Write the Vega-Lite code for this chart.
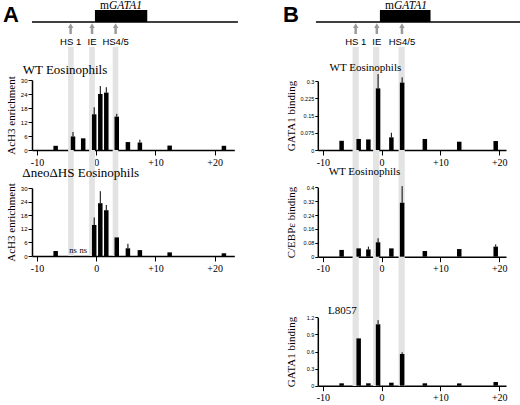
{
  "$schema": "https://vega.github.io/schema/vega-lite/v6.json",
  "width": 1,
  "height": 1,
  "padding": {"left": 519, "top": 0, "right": 0, "bottom": 404},
  "autosize": {"type": "none"},
  "background": "white",
  "config": {
    "view": {"stroke": null},
    "font": "Liberation Serif",
    "axis": {
      "grid": false,
      "domainColor": "black",
      "domainWidth": 1.5,
      "tickColor": "black",
      "tickWidth": 1,
      "labelColor": "black",
      "titleColor": "black",
      "labelFlush": false,
      "labelOverlap": false,
      "zindex": 1
    },
    "axisX": {"tickSize": 5, "labelFont": "Liberation Serif", "labelFontSize": 10, "labelPadding": 2},
    "axisY": {"tickSize": 4, "labelFont": "Liberation Sans", "labelFontSize": 6, "labelPadding": 1, "titleFont": "Liberation Serif", "titleFontSize": 11, "titleFontWeight": "normal"}
  },
  "datasets": {
    "a_wt": [
      {"pos": -6.85, "val": 1.8},
      {"pos": -3.92, "val": 5.8, "err": 7.7},
      {"pos": -2.2, "val": 5.0},
      {"pos": -0.34, "val": 15.3, "err": 18.3},
      {"pos": 0.69, "val": 24.0, "err": 27.4},
      {"pos": 1.7, "val": 24.6, "err": 26.9},
      {"pos": 3.47, "val": 14.3, "err": 15.5},
      {"pos": 5.35, "val": 3.4},
      {"pos": 7.37, "val": 3.2, "err": 4.4},
      {"pos": 12.4, "val": 1.9},
      {"pos": 21.56, "val": 1.8}
    ],
    "a_dneo": [
      {"pos": -6.85, "val": 2.2},
      {"pos": -0.34, "val": 13.7, "err": 17.0},
      {"pos": 0.69, "val": 23.3, "err": 28.6},
      {"pos": 1.7, "val": 20.2, "err": 22.5},
      {"pos": 3.47, "val": 8.2},
      {"pos": 5.35, "val": 3.4, "err": 5.4},
      {"pos": 7.37, "val": 2.6},
      {"pos": 12.4, "val": 1.6},
      {"pos": 21.56, "val": 1.2}
    ],
    "a_dneo_ns": [
      {"pos": -3.92, "val": 0, "note": "ns"},
      {"pos": -2.2, "val": 0, "note": "ns"}
    ],
    "b_gata1_wt": [
      {"pos": -6.8, "val": 0.040},
      {"pos": -3.9, "val": 0.048},
      {"pos": -2.25, "val": 0.046},
      {"pos": -0.6, "val": 0.268, "err": 0.33},
      {"pos": 1.66, "val": 0.055, "err": 0.075},
      {"pos": 3.49, "val": 0.293, "err": 0.316},
      {"pos": 7.35, "val": 0.048},
      {"pos": 13.2, "val": 0.036},
      {"pos": 19.4, "val": 0.039}
    ],
    "b_cebp_wt": [
      {"pos": -6.8, "val": 0.039},
      {"pos": -3.9, "val": 0.048},
      {"pos": -2.25, "val": 0.042, "err": 0.058},
      {"pos": -0.6, "val": 0.083, "err": 0.106},
      {"pos": 1.66, "val": 0.048},
      {"pos": 3.49, "val": 0.311, "err": 0.407},
      {"pos": 7.35, "val": 0.033},
      {"pos": 13.2, "val": 0.044},
      {"pos": 19.4, "val": 0.058, "err": 0.071}
    ],
    "b_l8057": [
      {"pos": -6.8, "val": 0.042},
      {"pos": -3.9, "val": 0.83},
      {"pos": -2.25, "val": 0.042},
      {"pos": -0.6, "val": 1.077, "err": 1.15},
      {"pos": 1.66, "val": 0.053},
      {"pos": 3.49, "val": 0.556, "err": 0.586},
      {"pos": 7.35, "val": 0.042},
      {"pos": 13.2, "val": 0.04},
      {"pos": 19.4, "val": 0.065}
    ],
    "sites_a": [
      {"site": "HS 1", "pos": -3.8, "start": -4.2, "end": -3.3},
      {"site": "IE", "pos": -0.36, "start": -0.82, "end": 0.1},
      {"site": "HS4/5", "pos": 3.42, "start": 2.95, "end": 3.85}
    ],
    "sites_b": [
      {"site": "HS 1", "pos": -3.9, "start": -4.4, "end": -3.4},
      {"site": "IE", "pos": -0.5, "start": -1.1, "end": -0.1},
      {"site": "HS4/5", "pos": 3.55, "start": 3.0, "end": 4.0}
    ],
    "gene_a": [
      {"panel": "A", "panel_at": -14.67, "prefix": "m", "symbol": "GATA1", "label_at": 2.34, "start": 0.1, "end": 8.5, "from": -10, "to": 23.05}
    ],
    "gene_b": [
      {"panel": "B", "panel_at": -15.6, "prefix": "m", "symbol": "GATA1", "label_at": 2.25, "start": 0.0, "end": 8.15, "from": -10.3, "to": 22.6}
    ]
  },
  "layer": [
    {
      "data": {"name": "sites_a"},
      "mark": {"type": "rect", "color": "#e3e3e3"},
      "encoding": {
        "x": {"field": "start", "type": "quantitative", "scale": {"domain": [-10, 22.47], "range": [-487, -284.7], "nice": false, "zero": false}, "axis": null},
        "x2": {"field": "end"},
        "y": {"datum": 0, "type": "quantitative", "scale": {"domain": [0, 1], "range": [256, 47], "nice": false}, "axis": null},
        "y2": {"datum": 1}
      }
    },
    {
      "data": {"name": "sites_b"},
      "mark": {"type": "rect", "color": "#e3e3e3"},
      "encoding": {
        "x": {"field": "start", "type": "quantitative", "scale": {"domain": [-10, 20.3], "range": [-201.2, -13], "nice": false, "zero": false}, "axis": null},
        "x2": {"field": "end"},
        "y": {"datum": 0, "type": "quantitative", "scale": {"domain": [0, 1], "range": [386, 47], "nice": false}, "axis": null},
        "y2": {"datum": 1}
      }
    },
    {
      "encoding": {
        "x": {"type": "quantitative", "scale": {"domain": [-10, 22.47], "range": [-487, -284.7], "nice": false, "zero": false}, "axis": null},
        "y": {"type": "quantitative", "scale": {"domain": [0, 1], "range": [22, 10], "nice": false, "zero": false}, "axis": null}
      },
      "layer": [
        {
          "data": {"name": "gene_a"},
          "mark": {"type": "rule", "color": "black", "strokeWidth": 1.5},
          "encoding": {"x": {"field": "from"}, "x2": {"field": "to"}, "y": {"datum": 0}}
        },
        {
          "data": {"name": "gene_a"},
          "mark": {"type": "rect", "color": "black"},
          "encoding": {"x": {"field": "start"}, "x2": {"field": "end"}, "y": {"datum": 0}, "y2": {"datum": 1}}
        },
        {
          "data": {"name": "gene_a"},
          "mark": {"type": "text", "align": "right", "baseline": "alphabetic", "fontSize": 11.5, "font": "Liberation Serif"},
          "encoding": {"x": {"field": "label_at"}, "y": {"datum": 1.08}, "text": {"field": "prefix"}}
        },
        {
          "data": {"name": "gene_a"},
          "mark": {"type": "text", "align": "left", "baseline": "alphabetic", "fontSize": 11.5, "font": "Liberation Serif", "fontStyle": "italic"},
          "encoding": {"x": {"field": "label_at"}, "y": {"datum": 1.08}, "text": {"field": "symbol"}}
        },
        {
          "data": {"name": "gene_a"},
          "mark": {"type": "text", "align": "left", "baseline": "alphabetic", "fontSize": 22, "font": "Liberation Sans", "fontWeight": "bold"},
          "encoding": {"x": {"field": "panel_at"}, "y": {"datum": 0}, "text": {"field": "panel"}}
        },
        {
          "data": {"name": "sites_a"},
          "mark": {"type": "rule", "color": "#9a9a9a", "strokeWidth": 2.5},
          "encoding": {"x": {"field": "pos"}, "y": {"datum": -0.46}, "y2": {"datum": -1.0}}
        },
        {
          "data": {"name": "sites_a"},
          "mark": {"type": "point", "shape": "triangle-up", "filled": true, "color": "#9a9a9a", "size": 30, "opacity": 1},
          "encoding": {"x": {"field": "pos"}, "y": {"datum": -0.3}}
        },
        {
          "data": {"name": "sites_a"},
          "mark": {"type": "text", "align": "center", "baseline": "alphabetic", "fontSize": 9.5, "font": "Liberation Sans"},
          "encoding": {"x": {"field": "pos"}, "y": {"datum": -1.92}, "text": {"field": "site"}}
        }
      ]
    },
    {
      "encoding": {
        "x": {"type": "quantitative", "scale": {"domain": [-10, 20.3], "range": [-201.2, -13], "nice": false, "zero": false}, "axis": null},
        "y": {"type": "quantitative", "scale": {"domain": [0, 1], "range": [22, 10], "nice": false, "zero": false}, "axis": null}
      },
      "layer": [
        {
          "data": {"name": "gene_b"},
          "mark": {"type": "rule", "color": "black", "strokeWidth": 1.5},
          "encoding": {"x": {"field": "from"}, "x2": {"field": "to"}, "y": {"datum": 0}}
        },
        {
          "data": {"name": "gene_b"},
          "mark": {"type": "rect", "color": "black"},
          "encoding": {"x": {"field": "start"}, "x2": {"field": "end"}, "y": {"datum": 0}, "y2": {"datum": 1}}
        },
        {
          "data": {"name": "gene_b"},
          "mark": {"type": "text", "align": "right", "baseline": "alphabetic", "fontSize": 11.5, "font": "Liberation Serif"},
          "encoding": {"x": {"field": "label_at"}, "y": {"datum": 1.08}, "text": {"field": "prefix"}}
        },
        {
          "data": {"name": "gene_b"},
          "mark": {"type": "text", "align": "left", "baseline": "alphabetic", "fontSize": 11.5, "font": "Liberation Serif", "fontStyle": "italic"},
          "encoding": {"x": {"field": "label_at"}, "y": {"datum": 1.08}, "text": {"field": "symbol"}}
        },
        {
          "data": {"name": "gene_b"},
          "mark": {"type": "text", "align": "left", "baseline": "alphabetic", "fontSize": 22, "font": "Liberation Sans", "fontWeight": "bold"},
          "encoding": {"x": {"field": "panel_at"}, "y": {"datum": 0}, "text": {"field": "panel"}}
        },
        {
          "data": {"name": "sites_b"},
          "mark": {"type": "rule", "color": "#9a9a9a", "strokeWidth": 2.5},
          "encoding": {"x": {"field": "pos"}, "y": {"datum": -0.46}, "y2": {"datum": -1.0}}
        },
        {
          "data": {"name": "sites_b"},
          "mark": {"type": "point", "shape": "triangle-up", "filled": true, "color": "#9a9a9a", "size": 30, "opacity": 1},
          "encoding": {"x": {"field": "pos"}, "y": {"datum": -0.3}}
        },
        {
          "data": {"name": "sites_b"},
          "mark": {"type": "text", "align": "center", "baseline": "alphabetic", "fontSize": 9.5, "font": "Liberation Sans"},
          "encoding": {"x": {"field": "pos"}, "y": {"datum": -1.92}, "text": {"field": "site"}}
        }
      ]
    },
    {
      "encoding": {
        "x": {"type": "quantitative", "scale": {"domain": [-10, 22.47], "range": [-487, -284.7], "nice": false, "zero": false},
              "axis": {"orient": "bottom", "offset": 149, "values": [-10, 0, 10, 20], "title": null, "labelExpr": "datum.value > 0 ? '+' + datum.value : '' + datum.value"}},
        "y": {"type": "quantitative", "scale": {"domain": [0, 30], "range": [150, 80], "nice": false},
              "axis": {"orient": "left", "offset": 487, "values": [0, 6, 12, 18, 24, 30], "title": "AcH3 enrichment", "titleX": -15.5, "labelExpr": "'' + datum.value"}}
      },
      "layer": [
        {
          "data": {"name": "a_wt"},
          "mark": {"type": "bar", "orient": "vertical", "size": 4.5, "color": "black"},
          "encoding": {"x": {"field": "pos"}, "y": {"field": "val"}}
        },
        {
          "data": {"name": "a_wt"},
          "transform": [{"filter": "isValid(datum.err)"}],
          "mark": {"type": "rule", "color": "black", "strokeWidth": 1},
          "encoding": {"x": {"field": "pos"}, "y": {"field": "val"}, "y2": {"field": "err"}}
        },
        {
          "data": {"values": [{"title": "WT Eosinophils"}]},
          "mark": {"type": "text", "align": "left", "baseline": "alphabetic", "fontSize": 13, "font": "Liberation Serif"},
          "encoding": {"x": {"datum": -12.42}, "y": {"datum": 32.57}, "text": {"field": "title"}}
        }
      ]
    },
    {
      "encoding": {
        "x": {"type": "quantitative", "scale": {"domain": [-10, 22.47], "range": [-487, -284.7], "nice": false, "zero": false},
              "axis": {"orient": "bottom", "offset": 255, "values": [-10, 0, 10, 20], "title": null, "labelExpr": "datum.value > 0 ? '+' + datum.value : '' + datum.value"}},
        "y": {"type": "quantitative", "scale": {"domain": [0, 30], "range": [256, 188], "nice": false},
              "axis": {"orient": "left", "offset": 487, "values": [0, 6, 12, 18, 24, 30], "title": "AcH3 enrichment", "titleX": -15.5, "labelExpr": "'' + datum.value"}}
      },
      "layer": [
        {
          "data": {"name": "a_dneo"},
          "mark": {"type": "bar", "orient": "vertical", "size": 4.5, "color": "black"},
          "encoding": {"x": {"field": "pos"}, "y": {"field": "val"}}
        },
        {
          "data": {"name": "a_dneo"},
          "transform": [{"filter": "isValid(datum.err)"}],
          "mark": {"type": "rule", "color": "black", "strokeWidth": 1},
          "encoding": {"x": {"field": "pos"}, "y": {"field": "val"}, "y2": {"field": "err"}}
        },
        {
          "data": {"name": "a_dneo_ns"},
          "mark": {"type": "text", "align": "center", "baseline": "alphabetic", "fontSize": 8.5, "font": "Liberation Serif", "dy": -3},
          "encoding": {"x": {"field": "pos"}, "y": {"field": "val"}, "text": {"field": "note"}}
        },
        {
          "data": {"values": [{"title": "ΔneoΔHS Eosinophils"}]},
          "mark": {"type": "text", "align": "left", "baseline": "alphabetic", "fontSize": 13, "font": "Liberation Serif"},
          "encoding": {"x": {"datum": -12.47}, "y": {"datum": 34.85}, "text": {"field": "title"}}
        }
      ]
    },
    {
      "encoding": {
        "x": {"type": "quantitative", "scale": {"domain": [-10, 20.3], "range": [-201.2, -13], "nice": false, "zero": false},
              "axis": {"orient": "bottom", "offset": 149, "values": [-10, 0, 10, 20], "title": null, "labelExpr": "datum.value > 0 ? '+' + datum.value : '' + datum.value"}},
        "y": {"type": "quantitative", "scale": {"domain": [0, 0.3], "range": [150, 81], "nice": false},
              "axis": {"orient": "left", "offset": 201.2, "values": [0, 0.075, 0.15, 0.225, 0.3], "title": "GATA1 binding", "titleX": -21, "labelFontSize": 5.5, "tickSize": 3, "labelExpr": "'' + datum.value"}}
      },
      "layer": [
        {
          "data": {"name": "b_gata1_wt"},
          "mark": {"type": "bar", "orient": "vertical", "size": 4.5, "color": "black"},
          "encoding": {"x": {"field": "pos"}, "y": {"field": "val"}}
        },
        {
          "data": {"name": "b_gata1_wt"},
          "transform": [{"filter": "isValid(datum.err)"}],
          "mark": {"type": "rule", "color": "black", "strokeWidth": 1},
          "encoding": {"x": {"field": "pos"}, "y": {"field": "val"}, "y2": {"field": "err"}}
        },
        {
          "data": {"values": [{"title": "WT Eosinophils"}]},
          "mark": {"type": "text", "align": "left", "baseline": "alphabetic", "fontSize": 11, "font": "Liberation Serif"},
          "encoding": {"x": {"datum": -8.84}, "y": {"datum": 0.343}, "text": {"field": "title"}}
        }
      ]
    },
    {
      "encoding": {
        "x": {"type": "quantitative", "scale": {"domain": [-10, 20.3], "range": [-201.2, -13], "nice": false, "zero": false},
              "axis": {"orient": "bottom", "offset": 255.7, "values": [-10, 0, 10, 20], "title": null, "labelExpr": "datum.value > 0 ? '+' + datum.value : '' + datum.value"}},
        "y": {"type": "quantitative", "scale": {"domain": [0, 0.4], "range": [256.7, 187.3], "nice": false},
              "axis": {"orient": "left", "offset": 201.2, "values": [0, 0.08, 0.16, 0.24, 0.32, 0.4], "title": "C/EBPε binding", "titleX": -21, "labelFontSize": 5.5, "tickSize": 3, "labelExpr": "'' + datum.value"}}
      },
      "layer": [
        {
          "data": {"name": "b_cebp_wt"},
          "mark": {"type": "bar", "orient": "vertical", "size": 4.5, "color": "black"},
          "encoding": {"x": {"field": "pos"}, "y": {"field": "val"}}
        },
        {
          "data": {"name": "b_cebp_wt"},
          "transform": [{"filter": "isValid(datum.err)"}],
          "mark": {"type": "rule", "color": "black", "strokeWidth": 1},
          "encoding": {"x": {"field": "pos"}, "y": {"field": "val"}, "y2": {"field": "err"}}
        },
        {
          "data": {"values": [{"title": "WT Eosinophils"}]},
          "mark": {"type": "text", "align": "left", "baseline": "alphabetic", "fontSize": 11, "font": "Liberation Serif"},
          "encoding": {"x": {"datum": -9.0}, "y": {"datum": 0.471}, "text": {"field": "title"}}
        }
      ]
    },
    {
      "encoding": {
        "x": {"type": "quantitative", "scale": {"domain": [-10, 20.3], "range": [-201.2, -13], "nice": false, "zero": false},
              "axis": {"orient": "bottom", "offset": 384.7, "values": [-10, 0, 10, 20], "title": null, "labelExpr": "datum.value > 0 ? '+' + datum.value : '' + datum.value"}},
        "y": {"type": "quantitative", "scale": {"domain": [0, 1.2], "range": [385.7, 317.3], "nice": false},
              "axis": {"orient": "left", "offset": 201.2, "values": [0, 0.3, 0.6, 0.9, 1.2], "title": "GATA1 binding", "titleX": -21, "labelFontSize": 5.5, "tickSize": 3, "labelExpr": "'' + datum.value"}}
      },
      "layer": [
        {
          "data": {"name": "b_l8057"},
          "mark": {"type": "bar", "orient": "vertical", "size": 4.5, "color": "black"},
          "encoding": {"x": {"field": "pos"}, "y": {"field": "val"}}
        },
        {
          "data": {"name": "b_l8057"},
          "transform": [{"filter": "isValid(datum.err)"}],
          "mark": {"type": "rule", "color": "black", "strokeWidth": 1},
          "encoding": {"x": {"field": "pos"}, "y": {"field": "val"}, "y2": {"field": "err"}}
        },
        {
          "data": {"values": [{"title": "L8057"}]},
          "mark": {"type": "text", "align": "left", "baseline": "alphabetic", "fontSize": 11, "font": "Liberation Serif"},
          "encoding": {"x": {"datum": -9.1}, "y": {"datum": 1.258}, "text": {"field": "title"}}
        }
      ]
    }
  ],
  "resolve": {
    "scale": {"x": "independent", "y": "independent"},
    "axis": {"x": "independent", "y": "independent"}
  }
}
